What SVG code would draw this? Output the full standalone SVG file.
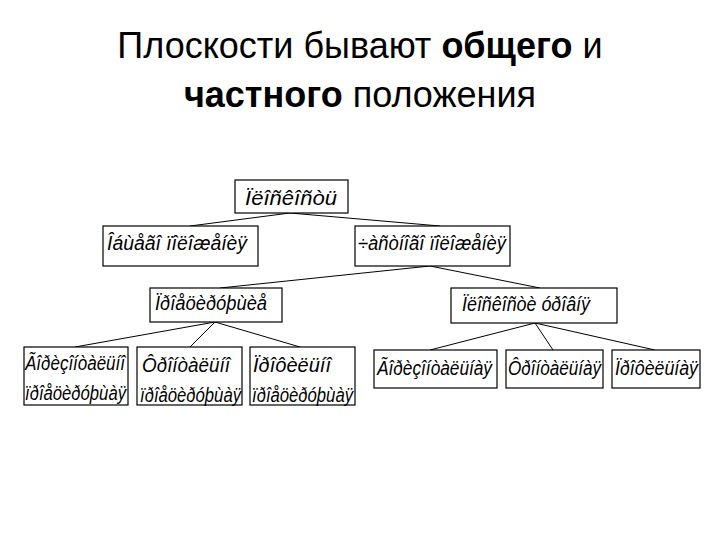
<svg xmlns="http://www.w3.org/2000/svg" width="720" height="540" viewBox="0 0 720 540">
<style>
.t{font-family:"Liberation Sans",Arial,sans-serif;font-size:36px;fill:#000;text-anchor:middle}
.b{fill:#fff;stroke:#000;stroke-width:1.2}
.n{font-family:"Liberation Sans",Arial,sans-serif;font-size:20px;font-style:italic;fill:#000}
.c{stroke:#000;stroke-width:1;fill:none}
</style>
<rect width="720" height="540" fill="#fff"/>
<text class="t" x="360" y="58">Плоскости бывают <tspan font-weight="bold">общего</tspan> и</text>
<text class="t" x="360" y="107"><tspan font-weight="bold">частного</tspan> положения</text>
<g id="connectors">
<path class="c" d="M290 213L190 226M290 213L440 226M430 266L220 288M430 266L540 288M215 322L75 347M215 322L190 347M215 322L300 347M535 323L430 350M535 323L553 350M535 323L655 350"/>
</g>
<g id="n0"><rect class="b" x="235" y="180" width="113" height="33"/><text class="n" x="245" y="205" textLength="92" lengthAdjust="spacingAndGlyphs">Ïëîñêîñòü</text></g>
<g id="n1"><rect class="b" x="103" y="226" width="155" height="40"/><text class="n" x="107" y="250" textLength="140" lengthAdjust="spacingAndGlyphs">Îáùåãî ïîëîæåíèÿ</text></g>
<g id="n2"><rect class="b" x="355" y="226" width="155" height="40"/><text class="n" x="358" y="250" textLength="148" lengthAdjust="spacingAndGlyphs">÷àñòíîãî ïîëîæåíèÿ</text></g>
<g id="n3"><rect class="b" x="150" y="288" width="132" height="34"/><text class="n" x="155" y="310" textLength="112" lengthAdjust="spacingAndGlyphs">Ïðîåöèðóþùèå</text></g>
<g id="n4"><rect class="b" x="451" y="288" width="166" height="35"/><text class="n" x="462" y="311" textLength="128" lengthAdjust="spacingAndGlyphs">Ïëîñêîñòè óðîâíÿ</text></g>
<g id="n5"><rect class="b" x="24" y="347" width="104" height="58"/><text class="n" x="25" y="370" textLength="100" lengthAdjust="spacingAndGlyphs">Ãîðèçîíòàëüíî</text><text class="n" x="25" y="400" textLength="101" lengthAdjust="spacingAndGlyphs">ïðîåöèðóþùàÿ</text></g>
<g id="n6"><rect class="b" x="137" y="347" width="105" height="58"/><text class="n" x="142" y="372" textLength="88" lengthAdjust="spacingAndGlyphs">Ôðîíòàëüíî</text><text class="n" x="140" y="402" textLength="101" lengthAdjust="spacingAndGlyphs">ïðîåöèðóþùàÿ</text></g>
<g id="n7"><rect class="b" x="250" y="347" width="105" height="58"/><text class="n" x="253" y="372" textLength="78" lengthAdjust="spacingAndGlyphs">Ïðîôèëüíî</text><text class="n" x="252" y="402" textLength="101" lengthAdjust="spacingAndGlyphs">ïðîåöèðóþùàÿ</text></g>
<g id="n8"><rect class="b" x="374" y="350" width="123" height="38"/><text class="n" x="377" y="375" textLength="115" lengthAdjust="spacingAndGlyphs">Ãîðèçîíòàëüíàÿ</text></g>
<g id="n9"><rect class="b" x="506" y="350" width="97" height="38"/><text class="n" x="508" y="375" textLength="93" lengthAdjust="spacingAndGlyphs">Ôðîíòàëüíàÿ</text></g>
<g id="n10"><rect class="b" x="612" y="350" width="88" height="38"/><text class="n" x="615" y="375" textLength="83" lengthAdjust="spacingAndGlyphs">Ïðîôèëüíàÿ</text></g>
</svg>
